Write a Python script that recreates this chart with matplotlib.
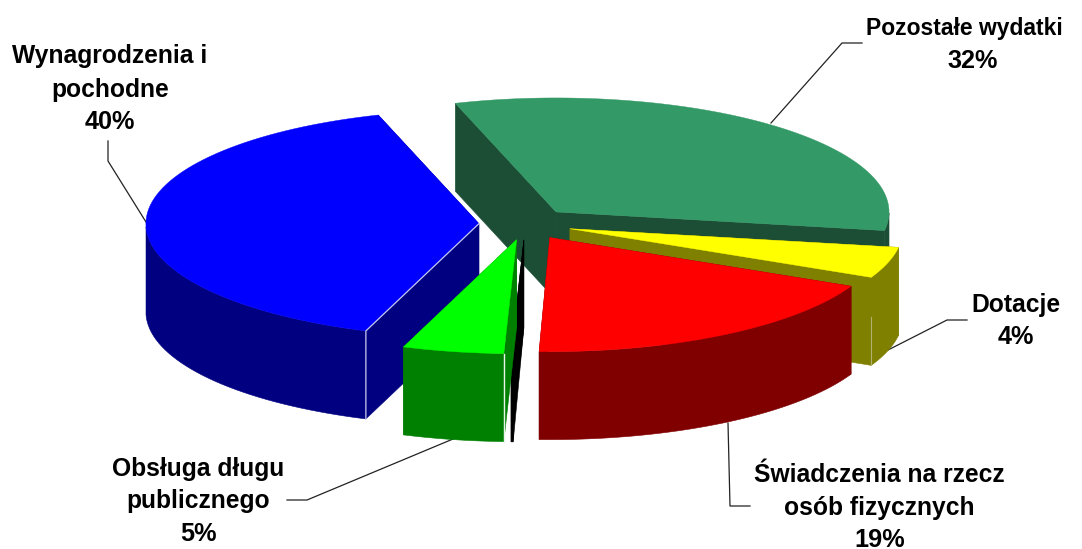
import numpy as np
import matplotlib
matplotlib.use("Agg")
import matplotlib.pyplot as plt
from matplotlib.patches import Polygon

# clockwise from the back left edge of "Pozostale wydatki"
shares = [32.5, 4.4, 18.5, 0.1, 4.9, 39.6]
top_colors = ["#339966", "#FFFF00", "#FF0000", "#000000", "#00FF00", "#0000FF"]
wall_colors = ["#1C4E36", "#808000", "#800000", "#000000", "#008000", "#000080"]
draw_order = [0, 5, 1, 2, 3, 4]  # back to front

# labels go line by line, the original centres them unevenly
label_lines = [
    "Pozostałe wydatki", "32%",
    "Dotacje", "4%",
    "Świadczenia na rzecz", "osób fizycznych", "19%",
    "Obsługa długu", "publicznego", "5%",
    "Wynagrodzenia i", "pochodne", "40%",
]
line_x = [964, 973, 1015.5, 1015.5, 879, 879, 880, 198, 198, 198, 110, 110, 110]
line_y = [35, 68, 312, 344, 482, 515, 547, 476, 508, 541, 63, 97, 129]
line_size = [16.5, 18.2, 17.7, 18.2, 17.7, 17.7, 18.2, 17.7, 17.7, 18.2, 17.7, 17.7, 18.2]

leader_x = [[771, 842, 862], [888, 947, 967], [728, 730, 750], [453, 307, 287], [146, 108, 108]]
leader_y = [[123, 43, 43], [350, 320, 320], [423, 506, 506], [439, 500, 500], [222, 161, 141]]

start_angle = 107.6
cx, cy = 525.5, 224.0
rx, ry = 333.0, 114.0
depth = 88.0
explode = 0.14


def rim(x0, y0, t):
    t = np.radians(t)
    return x0 + rx * np.cos(t), y0 - ry * np.sin(t)


def draw_slice(ax, t_start, t_end, top_color, wall_color):
    mid = (t_start + t_end) / 2
    x0, y0 = rim(cx, cy, mid)
    x0 = cx + (x0 - cx) * explode
    y0 = cy + (y0 - cy) * explode

    ts = np.linspace(t_start, t_end, 80)
    xs, ys = rim(x0, y0, ts)

    # two cut faces
    for t in (t_start, t_end):
        xe, ye = rim(x0, y0, t)
        pts = [(x0, y0), (xe, ye), (xe, ye + depth), (x0, y0 + depth)]
        ax.add_patch(Polygon(pts, fc=wall_color, ec=wall_color, lw=0.4, zorder=2))

    # outer wall, only the part of the rim facing the viewer
    front = np.sin(np.radians(ts)) <= 0
    if front.any():
        fx, fy = xs[front], ys[front]
        pts = list(zip(fx, fy)) + list(zip(fx[::-1], fy[::-1] + depth))
        ax.add_patch(Polygon(pts, fc=wall_color, ec=wall_color, lw=0.4, zorder=2))

    pts = [(x0, y0)] + list(zip(xs, ys))
    ax.add_patch(Polygon(pts, fc=top_color, ec=top_color, lw=0.3, zorder=2))
    return x0, y0


def main():
    plt.rcParams["font.family"] = ["Liberation Sans", "DejaVu Sans"]
    fig = plt.figure(figsize=(10.82, 5.49), dpi=100)
    ax = fig.add_axes([0, 0, 1, 1])
    ax.set_xlim(0, 1082)
    ax.set_ylim(549, 0)
    ax.axis("off")

    for xs, ys in zip(leader_x, leader_y):
        ax.plot(xs, ys, color="#222222", lw=0.9, zorder=1)

    edges = start_angle - 3.6 * np.cumsum([0] + shares)
    for i in draw_order:
        t_start, t_end = edges[i], edges[i + 1]
        x0, y0 = draw_slice(ax, t_start, t_end, top_colors[i], wall_colors[i])
        # pale highlight on the corners the original renderer left visible
        if i == 5:
            xe, ye = rim(x0, y0, t_start)
            ax.plot([x0, xe, xe], [y0, ye, ye + depth], color="#C8C8F0", lw=0.9, zorder=3)
        if i == 4:
            xe, ye = rim(x0, y0, t_start)
            ax.plot([xe, xe], [ye, ye + depth], color="#E8F4E8", lw=1.0, zorder=3)
        if i == 1:
            xe, ye = rim(x0, y0, t_end)
            ax.plot([xe, xe], [ye + 40, ye + depth], color="#B0B070", lw=0.8, zorder=3)

    for text, x, y, size in zip(label_lines, line_x, line_y, line_size):
        ax.text(x, y, text, ha="center", va="baseline", fontsize=size,
                fontweight="bold", color="black", zorder=4)

    fig.savefig("out.png", dpi=100)


if __name__ == "__main__":
    main()
